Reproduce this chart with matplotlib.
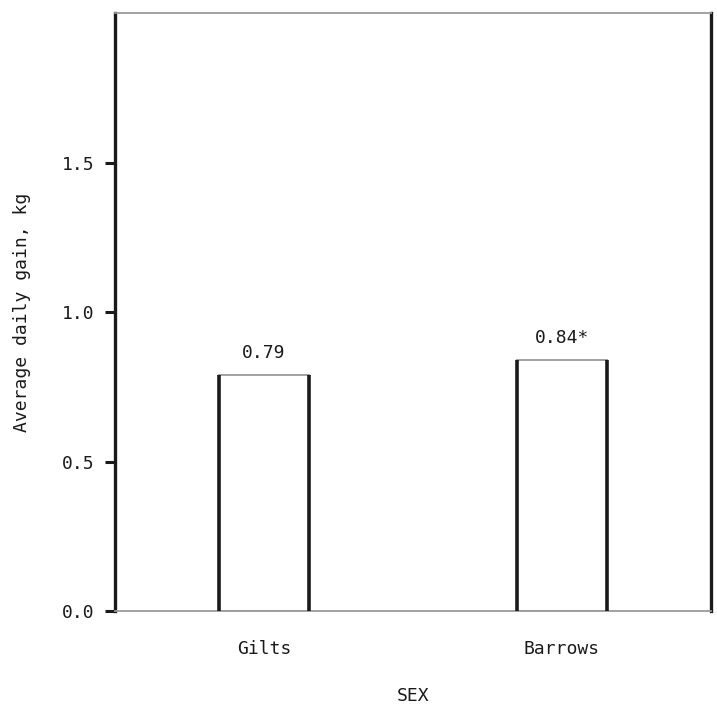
import matplotlib.pyplot as plt

sexes = ['Gilts', 'Barrows']
adg = [0.79, 0.84]
bar_labels = ['0.79', '0.84*']
yticks = [0.0, 0.5, 1.0, 1.5]

plt.rcParams['font.family'] = ['DejaVu Sans Mono', 'DejaVu Sans']
ink = '#1a1a1a'

fig = plt.figure(figsize=(7.17, 7.08), dpi=100)
ax = fig.add_axes([0.1604, 0.137, 0.8312, 0.8446])

x = range(len(sexes))
bars = ax.bar(x, adg, width=0.3, facecolor='white', edgecolor='#9a9a9a', linewidth=1.3, zorder=2)
# heavy black sides on each bar, light top
for p in bars:
    ax.vlines([p.get_x(), p.get_x() + p.get_width()], 0, p.get_height(),
              color=ink, linewidth=2.6, zorder=3)

ax.bar_label(bars, labels=bar_labels, padding=9, fontsize=13, color=ink)

ax.set_xlim(-0.5, 1.5)
ax.set_ylim(0, 2.0)
ax.set_xticks(list(x))
ax.set_xticklabels(sexes, fontsize=13, color=ink)
ax.set_yticks(yticks)
ax.set_yticklabels([f'{v:.1f}' for v in yticks], fontsize=13, color=ink)
ax.tick_params(axis='x', length=0, pad=21)
ax.tick_params(axis='y', direction='out', length=7, width=2.2, color=ink, pad=8)

for side in ['left', 'right']:
    ax.spines[side].set_color(ink)
    ax.spines[side].set_linewidth(2.4)
for side in ['top', 'bottom']:
    ax.spines[side].set_color('#9a9a9a')
    ax.spines[side].set_linewidth(1.3)

ax.set_xlabel('SEX', fontsize=13, color=ink, labelpad=21)
ax.set_ylabel('Average daily gain, kg', fontsize=13, color=ink, labelpad=22)

fig.savefig('out.png', dpi=100)
